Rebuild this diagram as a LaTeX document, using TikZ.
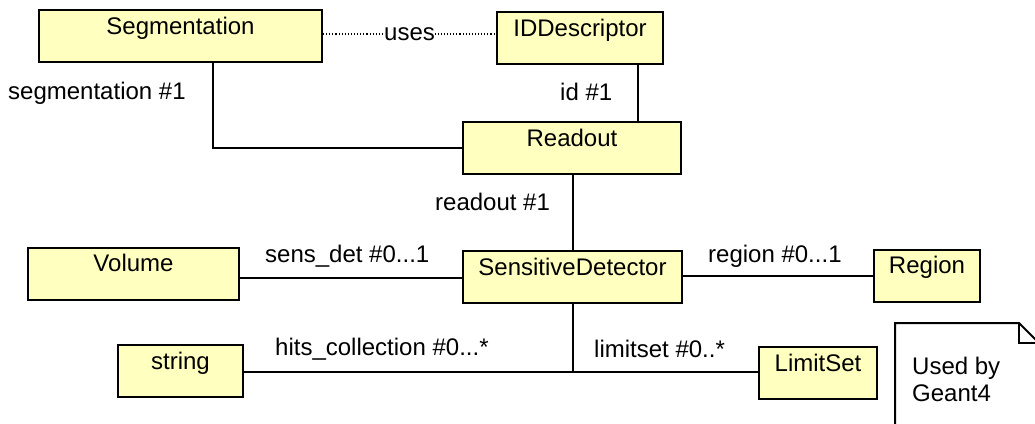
\documentclass[tikz,border=0pt]{standalone}
\usepackage{fontspec}
\setmainfont{Liberation Sans}
\begin{document}
\begin{tikzpicture}[x=1pt,y=-1pt,
  txt/.style={font=\fontsize{24}{27}\selectfont, inner sep=0pt},
  classbox/.style={txt, draw=black, line width=2pt, fill=classfill,
    text height=24pt, text depth=28pt, minimum height=52pt, inner xsep=0pt},
  assoc/.style={line width=2pt, draw=black},
  depend/.style={line width=1.4pt, draw=black, dash pattern=on 1.1pt off 2pt},
  lbl/.style={txt, anchor=base west},
  notebox/.style={line width=2pt, draw=black, fill=white}]
\definecolor{classfill}{RGB}{255,255,192}
\clip (0,0) rectangle (1035,423);
\fill[white] (0,0) rectangle (1035,423);

% classes
\node[classbox, minimum width=283pt] (seg) at (180.5,36) {Segmentation};
\node[classbox, minimum width=166pt] (idd) at (580,38) {IDDescriptor};
\node[classbox, minimum width=218pt] (ro) at (572,148) {Readout};
\node[classbox, minimum width=219pt] (sd) at (572.5,277) {SensitiveDetector};
\node[classbox, minimum width=211pt] (vol) at (133.5,273.5) {Volume};
\node[classbox, minimum width=106pt] (reg) at (927,275.5) {Region};
\node[classbox, minimum width=125pt] (str) at (180.5,371) {string};
\node[classbox, minimum width=118pt] (lim) at (818,373) {LimitSet};

% dependency
\draw[depend] (seg.east |- 0,34) -- node[txt, fill=white, inner xsep=0.5pt] (uses) {uses} (idd.west |- 0,34);

% associations
\draw[assoc] (seg.south -| 213,0) |- (ro.west);
\draw[assoc] (idd.south -| 638,0) -- (ro.north -| 638,0);
\draw[assoc] (ro.south -| 573,0) -- (sd.north -| 573,0);
\draw[assoc] (vol.east |- 0,278) -- (sd.west |- 0,278);
\draw[assoc] (sd.east |- 0,276) -- (reg.west |- 0,276);
\coordinate (jn) at (573,372);
\draw[assoc] (sd.south -| jn) -- (jn);
\draw[assoc] (str.east |- jn) -- (lim.west |- jn);

% role names
\node[lbl] (lseg) at (8,99) {segmentation \#1};
\node[lbl] (lid) at (560,100) {id \#1};
\node[lbl] (lro) at (435,210) {readout \#1};
\node[lbl] (lsens) at (265,262) {sens\_det \#0...1};
\node[lbl] (lreg) at (708,262) {region \#0...1};
\node[lbl] (lhits) at (275,355) {hits\_collection \#0...*};
\node[lbl] (llim) at (594,357) {limitset \#0..*};

% note
\draw[notebox] (895,440) -- (895,323) -- (1019,323) -- (1039,343) -- (1039,440);
\draw[line width=2pt] (1019,323) -- (1019,343) -- (1039,343);
\node[txt, align=left, anchor=north west] (note) at (912,357) {Used by\\Geant4};
\end{tikzpicture}
\end{document}
